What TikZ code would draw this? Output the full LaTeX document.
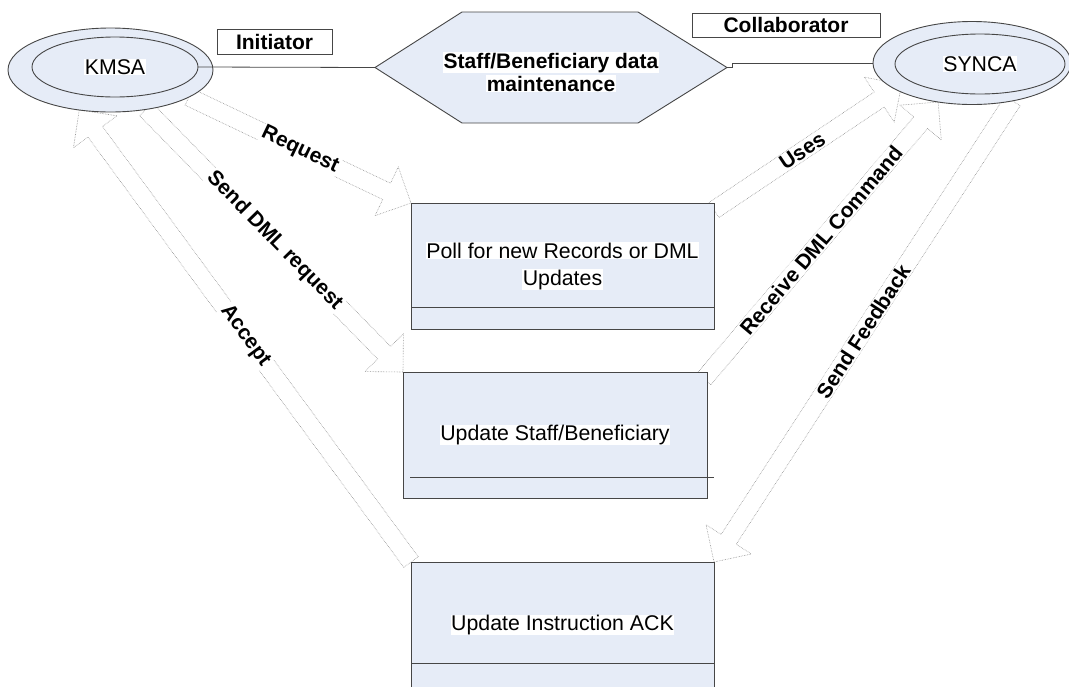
\documentclass[tikz,border=0pt]{standalone}
\usepackage{fontspec}
\setmainfont{Liberation Sans}
\usetikzlibrary{shapes.geometric,calc,backgrounds}

\definecolor{shapefill}{RGB}{230,236,247}
\definecolor{shapeline}{RGB}{70,70,70}
\definecolor{arrowline}{RGB}{145,145,145}

% text on a white band, as in the task boxes
\newcommand\whitebg[1]{{\setlength{\fboxsep}{0.5pt}\colorbox{white}{#1}}}

% hollow block arrow from #1 (tail) to #2 (tip)
\newcommand\blockarrow[2]{%
  \coordinate (hb) at ($(#2)!27pt!(#1)$);
  \path[arrowbody]
    ($(#1)!9pt!90:(#2)$) -- ($(hb)!9pt!90:(#2)$) -- ($(hb)!27pt!90:(#2)$)
    -- (#2)
    -- ($(hb)!27pt!-90:(#2)$) -- ($(hb)!9pt!-90:(#2)$) -- ($(#1)!9pt!-90:(#2)$)
    -- cycle;}

\begin{document}
\begin{tikzpicture}[x=1pt, y=-1pt,
  every node/.style={inner sep=0pt, outer sep=0pt},
  shapebody/.style={draw=shapeline, fill=shapefill, line width=0.9pt},
  plaintext/.style={font=\fontsize{21.3}{27}\selectfont},
  boldtext/.style={font=\fontsize{21}{23}\selectfont\bfseries},
  rolebox/.style={draw=shapeline, fill=white, line width=0.8pt, boldtext},
  task/.style={shapebody, rectangle, minimum height=126pt, plaintext, align=center},
  actor/.style={shapebody, ellipse, plaintext},
  conn/.style={draw=shapeline, line width=0.8pt},
  divider/.style={draw=shapeline, line width=0.8pt},
  arrowbody/.style={draw=arrowline, densely dotted, line width=0.6pt, fill=white},
  flowlabel/.style={boldtext, fill=white, inner sep=1pt, sloped}
]
\useasboundingbox (0,0) rectangle (1069,686);
\clip (0,0) rectangle (1069,686);

% actors
\node[actor, minimum width=205pt, minimum height=84pt] (kmsa) at (110.5,70) {};
\node[actor, minimum width=166pt, minimum height=60pt] (kmsain) at (115,67) {\whitebg{KMSA}};
\node[actor, minimum width=198pt, minimum height=83pt] (synca) at (972,63) {};
\node[actor, minimum width=170pt, minimum height=60pt] (syncain) at (980,64) {\whitebg{SYNCA}};

% role labels
\node[rolebox, minimum width=115pt, minimum height=25pt] (init) at (274.5,41.5) {Initiator};
\node[rolebox, minimum width=188pt, minimum height=24pt] (collab) at (786,25) {Collaborator};

% use case hexagon
\coordinate (hexW) at (375,67.5);
\coordinate (hexE) at (727,67.5);
\draw[shapebody] (hexW) -- (462,12) -- (638,12) -- (hexE) -- (638,123) -- (462,123) -- cycle;
\node[boldtext, align=center] (hex) at (551,72)
  {\whitebg{Staff/Beneficiary data}\\\whitebg{maintenance}};

\draw[conn] (kmsain.east) -- (hexW);
\draw[conn] (hexE) -- ++(5,0) |- (synca.west);

% activities
\node[task, minimum width=303pt] (poll) at (562.5,266)
  {\whitebg{Poll for new Records or DML}\\\whitebg{Updates}};
\node[task, minimum width=304pt] (upd) at (555,435) {\whitebg{Update Staff/Beneficiary}};
\node[task, minimum width=303pt] (ack) at (562.5,625) {\whitebg{Update Instruction ACK}};

\draw[divider] ($(poll.south west)+(0,-22)$) -- ($(poll.south east)+(0,-22)$);
\draw[divider] ($(upd.south west)+(7,-21)$) -- ($(upd.south east)+(7,-21)$);
\draw[divider] ($(ack.south west)+(0,-25)$) -- ($(ack.south east)+(0,-25)$);

% arrow end points
\coordinate (reqTail) at (kmsa.-19);
\coordinate (reqTip) at (poll.north west);
\coordinate (dmlTail) at (kmsa.-48);
\coordinate (dmlTip) at (upd.north west);
\coordinate (accTail) at (ack.north west);
\coordinate (accTip) at (kmsa.-128);
\coordinate (usesTail) at ($(poll.north east)+(0,7)$);
\coordinate (usesTip) at ($(synca.-163)!0.12!(synca.center)$);
\coordinate (rcvTail) at ($(upd.north east)+(-3,7)$);
\coordinate (rcvTip) at (synca.-131);
\coordinate (fbTail) at (synca.-43);
\coordinate (fbTip) at (ack.north east);

% message flows
\begin{scope}[on background layer]
  \blockarrow{reqTail}{reqTip}
  \path (reqTail) -- node[flowlabel] {Request} (reqTip);
  \blockarrow{dmlTail}{dmlTip}
  \path (dmlTail) -- node[flowlabel] {Send DML request} (dmlTip);
  \blockarrow{accTail}{accTip}
  \path (accTail) -- node[flowlabel] {Accept} (accTip);
  \blockarrow{usesTail}{usesTip}
  \path (usesTail) -- node[flowlabel, pos=0.47] {Uses} (usesTip);
  \blockarrow{rcvTail}{rcvTip}
  \path (rcvTail) -- node[flowlabel] {Receive DML Command} (rcvTip);
  \blockarrow{fbTail}{fbTip}
  \path (fbTail) -- node[flowlabel] {Send Feedback} (fbTip);
\end{scope}
\end{tikzpicture}
\end{document}
